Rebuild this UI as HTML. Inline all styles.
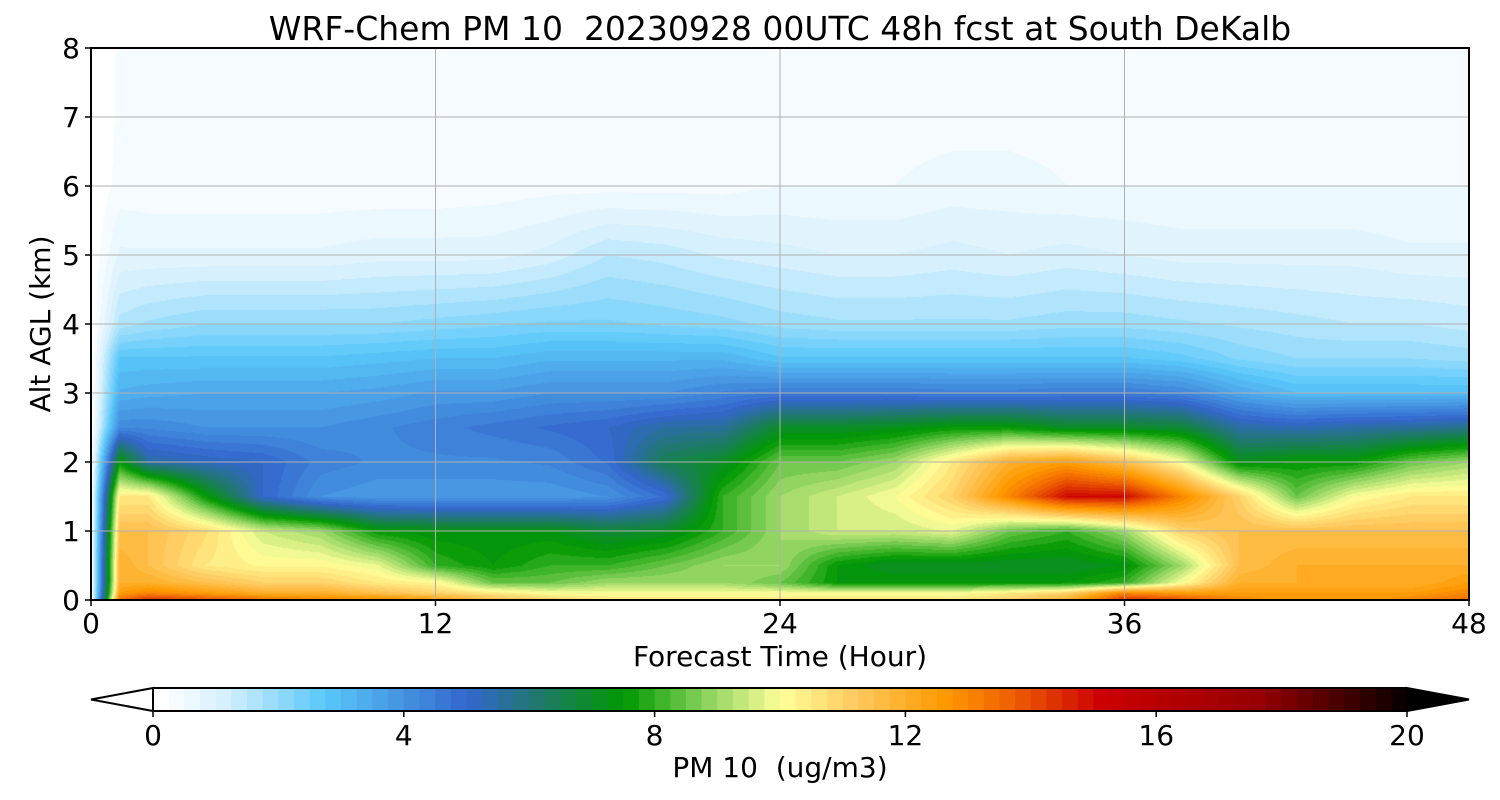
<!DOCTYPE html>
<html><head><meta charset="utf-8"><style>
body{margin:0;background:#fff;font-family:"Liberation Sans","DejaVu Sans",sans-serif}
#wrap{position:relative;width:1500px;height:800px}
canvas{position:absolute;left:91px;top:48px}
svg{position:absolute;left:0;top:0}
text{font-family:"DejaVu Sans","Liberation Sans",sans-serif;fill:#000;white-space:pre}
</style></head><body><div id="wrap">
<canvas id="cv" width="1378" height="552"></canvas>
<svg id="sv" width="1500" height="800"></svg>
</div>
<script>
const hours=[0,1,2,4,6,8,10,12,14,16,18,20,22,24,26,28,30,32,34,36,38,40,42,44,46,48];
const heights=[0,0.1,0.25,0.5,1,1.5,2,2.5,3,3.5,4,5,6,7,8];
const pm=[
[0,13.5,14.5,14,13.5,13,13,12.5,11.5,11,10.5,10.5,10.5,10.5,10.5,10.5,10.5,11,12,14.5,14,13,12.5,12.5,13,13.5],
[0,12.5,13,12.5,12,12,11.5,11,10.5,10,10,10,10,10,10,10,10,10.5,11,13,12.5,12.5,12.5,12.5,12.5,13],
[0,12,12,11.5,11,11,10.5,10.2,8.5,8.5,9,9,9,8.5,7.5,7.5,7.5,7.5,7.5,8,10,12,12,12,12,12.5],
[0,12,11.5,10.5,10.2,10.2,9.8,8,7.5,8,8,8.5,9,9,7.5,7,7,7,7,7.3,9,11.5,12,12,12,12],
[0,11.5,11.5,10.8,9.5,9,7.5,7.3,7.3,7.3,6.8,7,8,9,9.5,9.5,9.8,8.5,8,9,11,11.5,11.5,11.5,11.5,11.5],
[0,10.5,10.5,7.5,5,4,3.8,3.8,3.8,3.8,4,4.8,8,9,9.5,10,11,13,15,15,13,11,8.5,10,10.5,10.5],
[0,7.5,5.5,5.2,5,4.4,4.2,4.2,4.2,4.3,4.8,6.5,7,8.5,8.5,9,10.5,12,12.5,11.5,10,7.2,7.5,7.5,8.5,9],
[0,4.2,4.2,4,4,4,4.2,4.4,4.6,4.8,5,5.5,5.6,7,7,7.2,7.5,7.5,7,7,6.8,5.5,5.3,5.5,5.6,5.8],
[0,3.3,3.4,3.5,3.5,3.5,3.6,3.8,3.8,4,4,4,4.3,4.5,4.5,4.5,4.4,4.4,4.5,4.5,4.3,3.5,3,3,3,3],
[0,2.8,2.8,2.8,2.8,2.8,2.9,3,3,3.2,3.2,3.2,3.2,2.8,2.8,2.8,2.8,2.8,2.8,2.8,2.6,2.2,2,2,2,1.9],
[0,1.6,1.8,2,2,2,2,2.1,2.2,2.3,2.3,2.2,2.1,1.9,1.8,1.8,1.8,1.8,1.9,1.9,1.8,1.7,1.6,1.5,1.5,1.4],
[0,0.8,0.8,0.8,0.8,0.8,0.9,0.9,0.9,1.1,1.5,1.4,1.2,1.1,1,1,1.1,1,1.1,1,0.9,0.9,0.9,0.9,0.8,0.8],
[0,0.35,0.3,0.3,0.3,0.3,0.3,0.3,0.35,0.4,0.4,0.4,0.4,0.5,0.5,0.5,0.6,0.6,0.5,0.5,0.5,0.5,0.5,0.5,0.5,0.5],
[0,0.3,0.3,0.3,0.3,0.3,0.3,0.3,0.3,0.3,0.3,0.3,0.3,0.4,0.4,0.4,0.4,0.4,0.4,0.4,0.4,0.4,0.4,0.4,0.4,0.4],
[0,0.3,0.3,0.3,0.3,0.3,0.3,0.3,0.3,0.3,0.3,0.3,0.3,0.4,0.4,0.4,0.4,0.4,0.4,0.4,0.4,0.4,0.4,0.4,0.4,0.4]];
const xTicks=[0,12,24,36,48];
const yTicks=[0,1,2,3,4,5,6,7,8];
const cbTicks=[0,4,8,12,16,20];
const stops=[[0,[255,255,255]],[1,[215,240,253]],[2.6,[90,200,250]],[4.9,[51,102,204]],[6,[32,120,110]],[7.4,[0,153,0]],[8.8,[150,215,100]],[9.9,[255,255,153]],[11,[255,205,100]],[12.5,[255,153,0]],[13.5,[240,100,0]],[15,[204,0,0]],[17.5,[150,0,0]],[20,[0,0,0]]];
function cmap(v){v=Math.max(0,Math.min(20,Math.floor(v*4)/4));for(let i=1;i<stops.length;i++){if(v<=stops[i][0]){const a=stops[i-1],b=stops[i],t=(v-a[0])/(b[0]-a[0]);return a[1].map((c,k)=>Math.round(c+(b[1][k]-c)*t));}}return [0,0,0];}
const X0=91,X1=1469,Y0=600,Y1=48;
const xs=h=>X0+(h/48)*(X1-X0), ys=k=>Y0-(k/8)*(Y0-Y1);
function idx(arr,v){for(let i=0;i<arr.length-1;i++)if(v<=arr[i+1])return i;return arr.length-2;}
function sample(h,k){const i=idx(hours,h),j=idx(heights,k);const tx=(h-hours[i])/(hours[i+1]-hours[i]),ty=(k-heights[j])/(heights[j+1]-heights[j]);
const a=pm[j][i],b=pm[j][i+1],c=pm[j+1][i],d=pm[j+1][i+1];return (a*(1-tx)+b*tx)*(1-ty)+(c*(1-tx)+d*tx)*ty;}
const cv=document.getElementById('cv'),ctx=cv.getContext('2d');const W=cv.width,H=cv.height;const img=ctx.createImageData(W,H);
for(let py=0;py<H;py++){const k=(H-py-0.5)/H*8;for(let px=0;px<W;px++){const h=(px+0.5)/W*48;const c=cmap(sample(h,k));const o=(py*W+px)*4;img.data[o]=c[0];img.data[o+1]=c[1];img.data[o+2]=c[2];img.data[o+3]=255;}}
ctx.putImageData(img,0,0);
const sv=document.getElementById('sv');const NS='http://www.w3.org/2000/svg';
function mk(t,at,txt){const e=document.createElementNS(NS,t);for(const k in at)e.setAttribute(k,at[k]);if(txt!==undefined)e.textContent=txt;sv.appendChild(e);return e;}
xTicks.forEach(t=>{const x=xs(t);
const g=mk('line',{x1:x,x2:x,y1:Y1,y2:Y0,stroke:'#b0b0b0','stroke-width':1});
mk('line',{x1:x,x2:x,y1:Y0,y2:Y0+6,stroke:'#000','stroke-width':1.5});
const l=mk('text',{x:x,y:633,'font-size':28,'text-anchor':'middle'},t);});
yTicks.forEach(t=>{const y=ys(t);
const g=mk('line',{x1:X0,x2:X1,y1:y,y2:y,stroke:'#b0b0b0','stroke-width':1});
mk('line',{x1:X0-6,x2:X0,y1:y,y2:y,stroke:'#000','stroke-width':1.5});
const l=mk('text',{x:80,y:y+10,'font-size':28,'text-anchor':'end'},t);});
const fr=mk('rect',{x:X0,y:Y1,width:X1-X0,height:Y0-Y1,fill:'none',stroke:'#000','stroke-width':2});
const tt=mk('text',{x:780,y:40,'font-size':33,'text-anchor':'middle'},'WRF-Chem PM 10  20230928 00UTC 48h fcst at South DeKalb');
const xt=mk('text',{x:780,y:666,'font-size':28,'text-anchor':'middle'},'Forecast Time (Hour)');
const yt=mk('text',{x:0,y:0,'font-size':28,'text-anchor':'middle',transform:'translate(50,324) rotate(-90)'},'Alt AGL (km)');
const C0=153,C1=1407,CT=688,CB=711;const cx=v=>C0+v/20*(C1-C0);
for(let v=0;v<20;v+=0.25){const c=cmap(v+0.01);const r=mk('rect',{x:cx(v),y:CT,width:(C1-C0)/80+0.6,height:CB-CT,fill:`rgb(${c})`});}
const lt=mk('polygon',{points:`${C0},${CT} 91,${(CT+CB)/2} ${C0},${CB}`,fill:'#fff',stroke:'#000','stroke-width':2});
const rt=mk('polygon',{points:`${C1},${CT} 1469,${(CT+CB)/2} ${C1},${CB}`,fill:'#000',stroke:'#000','stroke-width':2});
mk('polyline',{points:`${C0},${CT} ${C1},${CT}`,stroke:'#000','stroke-width':2,fill:'none'});
mk('polyline',{points:`${C0},${CB} ${C1},${CB}`,stroke:'#000','stroke-width':2,fill:'none'});
cbTicks.forEach(t=>{const x=cx(t);mk('line',{x1:x,x2:x,y1:CB,y2:CB+6,stroke:'#000','stroke-width':1.5});
const l=mk('text',{x:x,y:745,'font-size':28,'text-anchor':'middle'},t);});
const ct=mk('text',{x:780,y:777,'font-size':28,'text-anchor':'middle'},'PM 10  (ug/m3)');
</script></body></html>
